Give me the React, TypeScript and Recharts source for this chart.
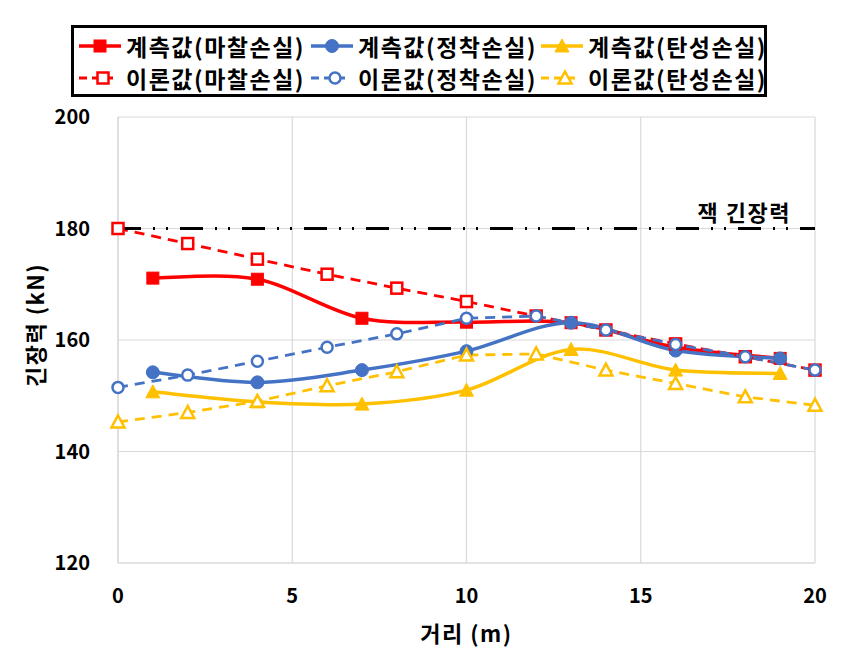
import React from 'react';
import { LineChart, Line, XAxis, YAxis, CartesianGrid, ReferenceLine } from 'recharts';

const measuredX = [1, 4, 7, 10, 13, 16, 19];
const measuredFriction = [171.1, 170.9, 163.9, 163.2, 163.1, 158.7, 156.7];
const measuredAnchorage = [154.2, 152.4, 154.6, 158.0, 163.1, 158.1, 156.7];
const measuredElastic = [150.7, 148.9, 148.5, 151.0, 158.3, 154.6, 154.0];

const theoryX = [0, 2, 4, 6, 8, 10, 12, 14, 16, 18, 20];
const theoryFriction = [180, 177.3, 174.5, 171.8, 169.3, 166.9, 164.3, 161.8, 159.3, 157.0, 154.6];
const theoryAnchorage = [151.5, 153.7, 156.2, 158.7, 161.1, 163.9, 164.3, 161.8, 159.2, 157.0, 154.6];
const theoryElastic = [145.3, 147.0, 149.0, 151.8, 154.3, 157.3, 157.5, 154.6, 152.2, 149.8, 148.3];

const jackForce = 180;
const jackLabel = '잭 긴장력';

const xTicks = [0, 5, 10, 15, 20];
const yTicks = [120, 140, 160, 180, 200];

const RED = '#FF0000';
const BLUE = '#4472C4';
const YELLOW = '#FFC000';
const FONT = '"Noto Sans CJK KR", "Noto Sans", sans-serif';

type Shape = 'square' | 'circle' | 'triangle';

const series = [
  { name: '계측값(마찰손실)', xs: measuredX, ys: measuredFriction, color: RED, shape: 'square' as Shape, filled: true },
  { name: '계측값(정착손실)', xs: measuredX, ys: measuredAnchorage, color: BLUE, shape: 'circle' as Shape, filled: true },
  { name: '계측값(탄성손실)', xs: measuredX, ys: measuredElastic, color: YELLOW, shape: 'triangle' as Shape, filled: true },
  { name: '이론값(마찰손실)', xs: theoryX, ys: theoryFriction, color: RED, shape: 'square' as Shape, filled: false },
  { name: '이론값(정착손실)', xs: theoryX, ys: theoryAnchorage, color: BLUE, shape: 'circle' as Shape, filled: false },
  { name: '이론값(탄성손실)', xs: theoryX, ys: theoryElastic, color: YELLOW, shape: 'triangle' as Shape, filled: false },
];

// excel-like smoothing (catmull-rom bezier)
const excelSmooth: any = (context: any) => {
  let pts: number[][] = [];
  return {
    areaStart() {},
    areaEnd() {},
    lineStart() {
      pts = [];
    },
    point(x: number, y: number) {
      pts.push([+x, +y]);
    },
    lineEnd() {
      const n = pts.length;
      if (!n) return;
      context.moveTo(pts[0][0], pts[0][1]);
      for (let i = 0; i < n - 1; i++) {
        const p0 = pts[i - 1] || pts[i];
        const p1 = pts[i];
        const p2 = pts[i + 1];
        const p3 = pts[i + 2] || p2;
        context.bezierCurveTo(
          p1[0] + (p2[0] - p0[0]) / 6,
          p1[1] + (p2[1] - p0[1]) / 6,
          p2[0] - (p3[0] - p1[0]) / 6,
          p2[1] - (p3[1] - p1[1]) / 6,
          p2[0],
          p2[1]
        );
      }
    },
  };
};

function Marker({ cx, cy, shape, color, filled }: { cx: number; cy: number; shape: Shape; color: string; filled: boolean }) {
  const fill = filled ? color : '#fff';
  const sw = filled ? 1 : 2.5;
  if (shape === 'square') {
    const s = filled ? 12 : 11;
    return <rect x={cx - s / 2} y={cy - s / 2} width={s} height={s} fill={fill} stroke={color} strokeWidth={sw} />;
  }
  if (shape === 'circle') {
    const r = filled ? 6.5 : 5.5;
    return <circle cx={cx} cy={cy} r={r} fill={fill} stroke={color} strokeWidth={sw} />;
  }
  const h = filled ? 12 : 11;
  const w = filled ? 14 : 13;
  return (
    <polygon
      points={`${cx},${cy - h / 2 - 1} ${cx - w / 2},${cy + h / 2} ${cx + w / 2},${cy + h / 2}`}
      fill={fill}
      stroke={color}
      strokeWidth={sw}
      strokeLinejoin="miter"
    />
  );
}

function LegendBox() {
  const rows = [series.slice(0, 3), series.slice(3, 6)];
  const colW = [232, 230, 230];
  return (
    <div
      style={{
        position: 'absolute',
        left: 71,
        top: 25,
        width: 696,
        height: 72,
        border: '3px solid #000',
        boxSizing: 'border-box',
        background: '#fff',
        overflow: 'hidden',
        fontFamily: FONT,
        fontWeight: 700,
        fontSize: 23,
        letterSpacing: 1.5,
        lineHeight: '31px',
        color: '#000',
      }}
    >
      {rows.map((row, ri) => (
        <div key={ri} style={{ display: 'flex', height: 32, marginTop: ri === 0 ? 2 : 0, paddingLeft: 3 }}>
          {row.map((s, ci) => (
            <div key={s.name} style={{ display: 'flex', alignItems: 'center', width: colW[ci], flex: 'none', whiteSpace: 'nowrap' }}>
              <svg width={46} height={24} style={{ flex: 'none' }}>
                <line
                  x1={2}
                  y1={12}
                  x2={s.filled ? 44 : 36}
                  y2={12}
                  stroke={s.color}
                  strokeWidth={s.filled ? 3.5 : 3}
                  strokeDasharray={s.filled ? undefined : '8 5'}
                />
                <Marker cx={s.filled ? 23 : 26} cy={12} shape={s.shape} color={s.color} filled={s.filled} />
              </svg>
              <span style={{ marginLeft: 3 }}>{s.name}</span>
            </div>
          ))}
        </div>
      ))}
    </div>
  );
}

export default function App() {
  const tickStyle = { fill: '#000', fontSize: 20, fontWeight: 700, fontFamily: FONT };
  const titleStyle = { ...tickStyle, fontSize: 22, letterSpacing: 1.5 };
  return (
    <div style={{ position: 'absolute', left: 0, top: 0, width: 865, height: 656, background: '#fff' }}>
      <LineChart width={865} height={656} margin={{ top: 117, right: 50, bottom: 0, left: 0 }}>
        <CartesianGrid stroke="#D9D9D9" strokeWidth={1.2} />
        <XAxis
          type="number"
          dataKey="x"
          domain={[0, 20]}
          ticks={xTicks}
          allowDuplicatedCategory={false}
          height={93}
          tickLine={false}
          axisLine={{ stroke: '#D9D9D9', strokeWidth: 1.2 }}
          tick={tickStyle}
          tickMargin={20}
          label={{ value: '거리 (m)', position: 'insideBottom', offset: 14, style: titleStyle }}
        />
        <YAxis
          type="number"
          domain={[120, 200]}
          ticks={yTicks}
          width={118}
          tickLine={false}
          axisLine={{ stroke: '#D9D9D9', strokeWidth: 1.2 }}
          tick={tickStyle}
          tickMargin={22}
          label={{ value: '긴장력 (kN)', angle: -90, position: 'insideLeft', offset: 36, dy: -15, style: { ...titleStyle, textAnchor: 'middle' } }}
        />
        {series.map((s) => (
          <Line
            key={s.name}
            name={s.name}
            data={s.xs.map((x, i) => ({ x, y: s.ys[i] }))}
            dataKey="y"
            type={s.filled ? excelSmooth : 'linear'}
            stroke={s.color}
            strokeWidth={s.filled ? 3.5 : 2.8}
            strokeDasharray={s.filled ? undefined : '10 7'}
            isAnimationActive={false}
            dot={(p: any) => <Marker key={`${s.name}-${p.index}`} cx={p.cx} cy={p.cy} shape={s.shape} color={s.color} filled={s.filled} />}
            activeDot={false}
          />
        ))}
        <ReferenceLine
          y={jackForce}
          stroke="#000"
          strokeWidth={3}
          strokeDasharray="23 12 2 11 2 12"
          label={(p: any) => {
            const vb = p.viewBox;
            return (
              <text x={vb.x + vb.width - 24} y={vb.y - 8} textAnchor="end" style={titleStyle}>
                {jackLabel}
              </text>
            );
          }}
        />
      </LineChart>
      <LegendBox />
    </div>
  );
}
